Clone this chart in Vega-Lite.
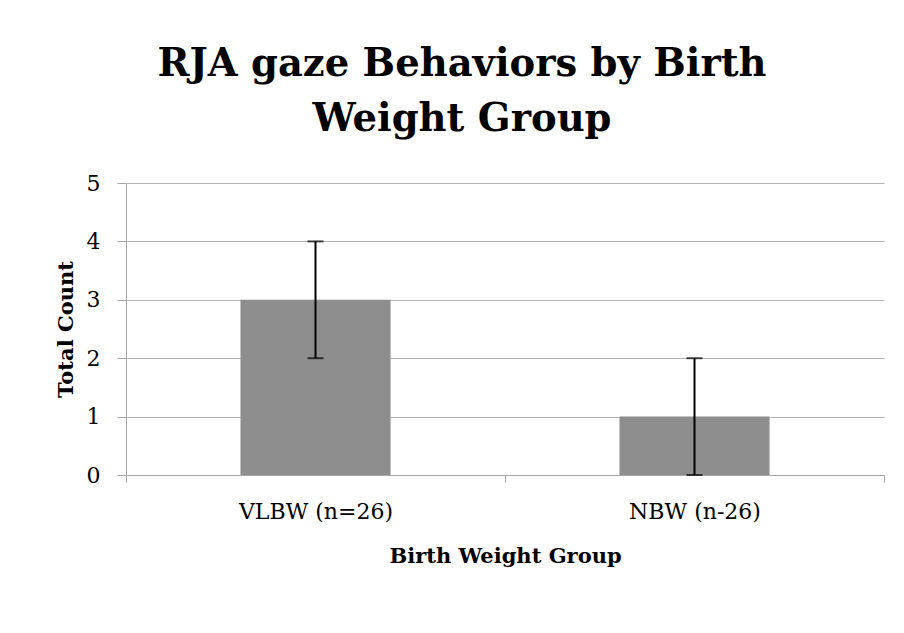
{
  "$schema": "https://vega.github.io/schema/vega-lite/v6.json",
  "width": 758,
  "height": 292,
  "autosize": {"type": "none"},
  "padding": {"left": 126, "top": 183, "right": 20, "bottom": 158},
  "background": "white",
  "title": {
    "text": ["RJA gaze Behaviors by Birth", "Weight Group"],
    "font": "DejaVu Serif",
    "fontSize": 38.5,
    "fontWeight": "bold",
    "color": "black",
    "lineHeight": 55,
    "anchor": "middle",
    "dx": -43,
    "offset": 33
  },
  "data": {
    "values": [
      {"group": "VLBW (n=26)", "count": 3, "lo": 2, "hi": 4},
      {"group": "NBW (n-26)", "count": 1, "lo": 0, "hi": 2}
    ]
  },
  "encoding": {
    "x": {
      "field": "group",
      "type": "nominal",
      "sort": null,
      "scale": {"paddingInner": 0, "paddingOuter": 0},
      "axis": {
        "title": "Birth Weight Group",
        "titleFont": "DejaVu Serif",
        "titleFontSize": 21,
        "titleFontWeight": "bold",
        "titleColor": "black",
        "titleBaseline": "alphabetic",
        "titleY": 87,
        "labelFont": "DejaVu Serif",
        "labelFontSize": 22,
        "labelColor": "black",
        "labelAngle": 0,
        "labelBaseline": "alphabetic",
        "labelPadding": 36,
        "tickBand": "extent",
        "tickSize": 7,
        "tickColor": "#a6a6a6",
        "domainColor": "#a6a6a6",
        "grid": false
      }
    }
  },
  "layer": [
    {
      "mark": {"type": "bar", "color": "#8e8e8e", "width": {"band": 0.396}},
      "encoding": {
        "y": {
          "field": "count",
          "type": "quantitative",
          "scale": {"domain": [0, 5]},
          "axis": {
            "values": [0, 1, 2, 3, 4, 5],
            "format": "d",
            "title": "Total Count",
            "titleFont": "DejaVu Serif",
            "titleFontSize": 21,
            "titleFontWeight": "bold",
            "titleColor": "black",
            "titleBaseline": "alphabetic",
            "titleX": -54,
            "labelFont": "DejaVu Serif",
            "labelFontSize": 22,
            "labelColor": "black",
            "labelPadding": 17,
            "tickSize": 9,
            "tickColor": "#a6a6a6",
            "domainColor": "#a6a6a6",
            "gridColor": "#b3b3b3",
            "gridOpacity": 1
          }
        }
      }
    },
    {
      "mark": {"type": "rule", "color": "black", "strokeWidth": 2},
      "encoding": {
        "y": {"field": "lo", "type": "quantitative"},
        "y2": {"field": "hi"}
      }
    },
    {
      "mark": {"type": "tick", "color": "black", "size": 16, "thickness": 2, "orient": "horizontal"},
      "encoding": {"y": {"field": "lo", "type": "quantitative"}}
    },
    {
      "mark": {"type": "tick", "color": "black", "size": 16, "thickness": 2, "orient": "horizontal"},
      "encoding": {"y": {"field": "hi", "type": "quantitative"}}
    }
  ],
  "config": {
    "view": {"stroke": null},
    "axis": {"domainWidth": 1, "tickWidth": 1, "gridWidth": 1}
  }
}
